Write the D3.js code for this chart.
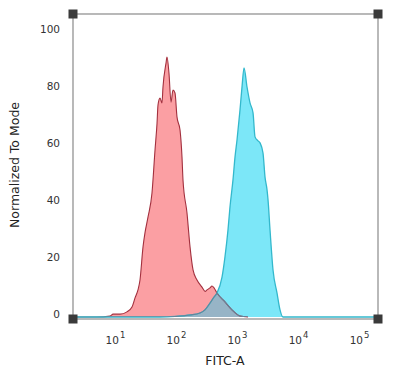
<!DOCTYPE html>
<html><head><meta charset="utf-8">
<script src="https://cdn.jsdelivr.net/npm/d3@7"></script>
<style>
html,body{margin:0;padding:0;background:#fff;}
svg{display:block;font-family:"DejaVu Sans",sans-serif;}
</style></head>
<body>
<svg id="chart" width="400" height="372"></svg>
<script>
// ---- data ----
const xAxisTitle = "FITC-A";
const yAxisTitle = "Normalized To Mode";
const yTicks = [0, 20, 40, 60, 80, 100];
const xTickExponents = [1, 2, 3, 4, 5];
const xDomain = [2.05, 204600];

// control sample (red)
const redFitc = [2.05, 5.07, 8.3, 9.3, 12.1, 15.7, 19.0, 21.3, 23.8, 25.7, 28.8, 31.0, 34.8, 40.4, 45.3, 48.9, 50.7, 54.7, 58.9, 61.2, 68.6, 71.2, 76.7, 82.8, 89.3, 96.3, 103.8, 116.4, 125.4, 130.2, 151.4, 169.8, 190.2, 220.9, 266.7, 300, 322.1, 360.6, 389, 420, 470, 635, 828, 1119, 1514];
const redCount = [0, 0, 0.3, 1.0, 1.0, 1.8, 3.5, 6.7, 9.5, 13.0, 24.6, 29.5, 35.1, 43.5, 58.6, 68.1, 74.4, 76.8, 75.1, 80.7, 89.1, 91.2, 85.6, 75.4, 79.6, 78.6, 70.2, 65.6, 56.1, 48.1, 36.5, 24.6, 16.5, 13.0, 10.5, 9.0, 9.5, 10.2, 10.9, 10.2, 8.4, 5.3, 2.5, 0.35, 0];

// stained sample (cyan)
const cyanFitc = [2.05, 54.7, 96, 170, 247, 298, 361, 420, 470, 568, 635, 711, 767, 859, 927, 1000, 1119, 1207, 1303, 1459, 1634, 1830, 1974, 2209, 2384, 2668, 2878, 3105, 3224, 3477, 3892, 4528, 5070, 5678, 204600];
const cyanCount = [0, 0, 0.2, 0.7, 1.4, 2.5, 4.9, 7.0, 8.4, 14.0, 21.1, 30.5, 38.6, 48.1, 56.1, 62.1, 72.6, 80.7, 87.4, 80.7, 75.1, 71.6, 63.2, 61.8, 61.1, 57.5, 49.1, 44.6, 41.1, 30.5, 16.5, 8.4, 2.5, 0, 0];

// ---- drawing ----
const svg = d3.select("#chart");
const frame = {left: 73, right: 378, top: 14, bottom: 319};
const x = d3.scaleLog().domain(xDomain).range([frame.left, frame.right]);
const y = d3.scaleLinear().domain([0, 100]).range([317, 32]);

const redData = redFitc.map((v, i) => [v, redCount[i]]);
const cyanData = cyanFitc.map((v, i) => [v, cyanCount[i]]);

const area = d3.area().x(d => x(d[0])).y0(y(0)).y1(d => y(d[1])).curve(d3.curveMonotoneX);
const line = d3.line().x(d => x(d[0])).y(d => y(d[1])).curve(d3.curveMonotoneX);

const defs = svg.append("defs");
defs.append("clipPath").attr("id", "clipRed").append("path").attr("d", area(redData));
defs.append("clipPath").attr("id", "clipCyan").append("path").attr("d", area(cyanData));

const colRedFill = "#fb9fa3", colCyanFill = "#7ce7f8", colOverlap = "#97b4c6";
const colRedLine = "#a3303e", colCyanLine = "#33b8cc", colOverlapLine = "#65849a";

svg.append("path").attr("d", area(redData)).attr("fill", colRedFill);
svg.append("path").attr("d", area(cyanData)).attr("fill", colCyanFill);
svg.append("path").attr("d", area(cyanData)).attr("fill", colOverlap).attr("clip-path", "url(#clipRed)");

svg.append("path").attr("d", line(redData)).attr("fill", "none").attr("stroke", colRedLine).attr("stroke-width", 1.1);
svg.append("path").attr("d", line(cyanData)).attr("fill", "none").attr("stroke", colCyanLine).attr("stroke-width", 1.3);
svg.append("path").attr("d", line(redData)).attr("fill", "none").attr("stroke", colOverlapLine).attr("stroke-width", 1.1).attr("clip-path", "url(#clipCyan)");
svg.append("path").attr("d", line(cyanData)).attr("fill", "none").attr("stroke", colOverlapLine).attr("stroke-width", 1.1).attr("clip-path", "url(#clipRed)");

// frame
svg.append("rect").attr("x", frame.left).attr("y", frame.top)
  .attr("width", frame.right - frame.left).attr("height", frame.bottom - frame.top)
  .attr("fill", "none").attr("stroke", "#8a8a8a").attr("stroke-width", 1.2);

// corner squares
[[frame.left, frame.top], [frame.right, frame.top], [frame.left, frame.bottom], [frame.right, frame.bottom]]
  .forEach(([cx, cy]) => svg.append("rect").attr("x", cx - 4.5).attr("y", cy - 4.5)
    .attr("width", 9).attr("height", 9).attr("fill", "#3a3a3a"));

// y axis
const yAxis = d3.axisLeft(y).tickValues(yTicks).tickSize(0).tickPadding(0);
const gy = svg.append("g").attr("transform", `translate(${frame.left - 13},0)`).call(yAxis);
gy.select(".domain").remove();
gy.selectAll("text").attr("font-size", 10.5).attr("fill", "#333").attr("dy", "0.05em")
  .attr("font-family", "DejaVu Sans, sans-serif");

// x axis
const xAxis = d3.axisBottom(x).tickValues(xTickExponents.map(e => Math.pow(10, e))).tickSize(0).tickFormat("");
const gx = svg.append("g").attr("transform", `translate(0,${frame.bottom})`).call(xAxis);
gx.select(".domain").remove();
gx.selectAll(".tick").each(function(d) {
  const e = Math.round(Math.log10(d));
  const t = d3.select(this).append("text").attr("y", 25).attr("text-anchor", "middle")
    .attr("fill", "#333").attr("font-size", 10.5).attr("font-family", "DejaVu Sans, sans-serif");
  t.append("tspan").text("10");
  t.append("tspan").attr("dy", -6).attr("dx", 1).attr("font-size", 8.5).text(e);
});

// titles
svg.append("text").attr("x", 225).attr("y", 365).attr("text-anchor", "middle")
  .attr("font-size", 12.5).attr("fill", "#222").text(xAxisTitle);
svg.append("text").attr("transform", "translate(19,165) rotate(-90)").attr("text-anchor", "middle")
  .attr("font-size", 12.5).attr("fill", "#222").text(yAxisTitle);
</script>
</body></html>
